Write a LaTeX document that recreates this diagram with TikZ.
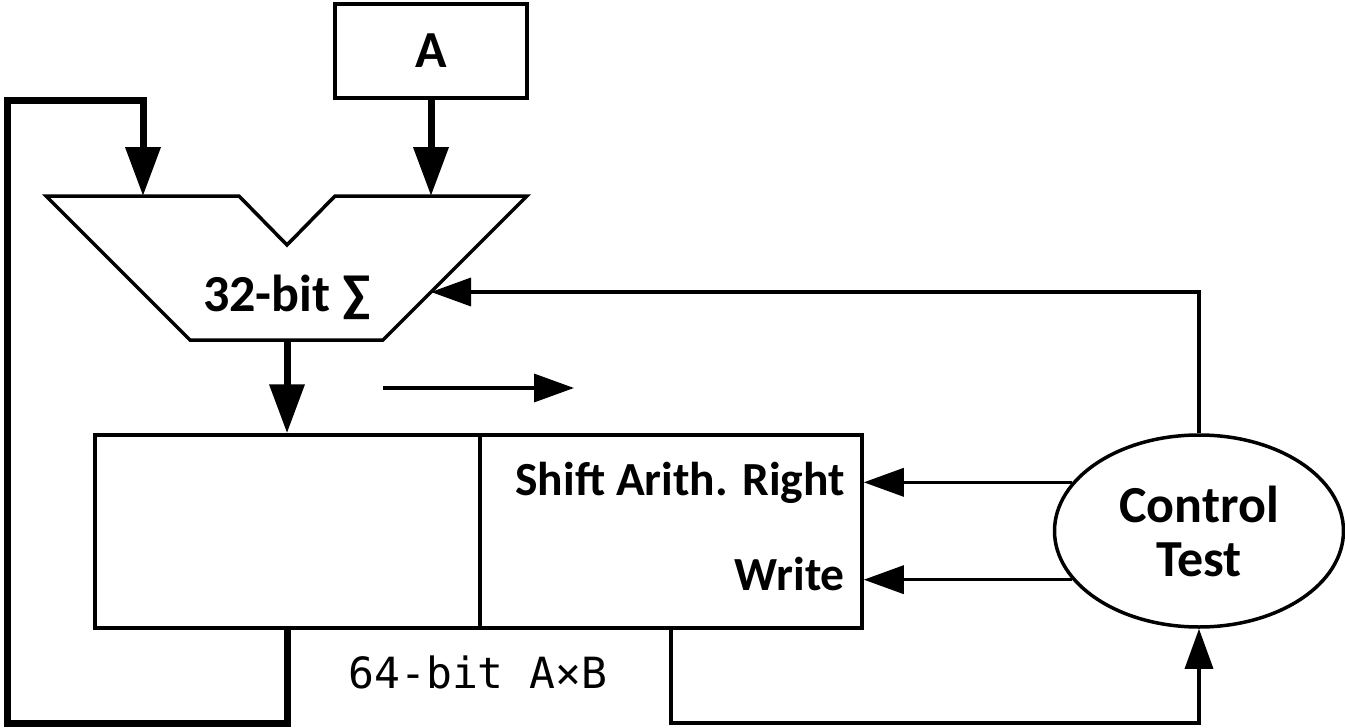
\documentclass[tikz,border=0pt]{standalone}
\usepackage{fontspec}
\setmainfont{Carlito}
\newfontfamily\codefont{DejaVu Sans Mono}
\usetikzlibrary{positioning,shapes.geometric,arrows.meta}

\tikzset{
  wire/.style={line width=3.5pt},
  bus/.style={line width=7pt},
  wirearrow/.style={wire,-{Triangle[length=40pt,width=28pt]}},
  busarrow/.style={bus,-{Triangle[length=49pt,width=34pt]}},
  label/.style={font=\fontsize{52}{54}\selectfont\bfseries,align=center,inner sep=0pt},
  smalllabel/.style={label,font=\fontsize{47.5}{50}\selectfont\bfseries},
}

\begin{document}
\begin{tikzpicture}[x=1pt,y=-1pt]
\useasboundingbox (0,0) rectangle (1345,728);
% boxes
\node[draw,wire,label,minimum width=192pt,minimum height=94pt] (a) at (431,51) {A};
\node[draw,wire,minimum width=385pt,minimum height=193pt,inner sep=0pt] (regL) at (287.5,531.5) {};
\node[draw,wire,minimum width=382pt,minimum height=193pt,inner sep=0pt] (regR) at (671,531.5) {};
\node[draw,wire,ellipse,minimum width=289pt,minimum height=192pt,inner sep=0pt,label] (ctl) at (1199,531) {Control\\Test};
% adder
\coordinate (sumL) at (143,196);
\coordinate (sumR) at (431,196);
\coordinate (sumin) at (431,292);
\coordinate (sumout) at (287,340);
\draw[wire,line join=miter] (46,196) -- (239,196) -- (287,245) -- (335,196) -- (527,196)
  -- (383,340) -- (190,340) -- cycle;
\node[label] (sum) at (287,297) {32-bit ∑};
% labels
\node[smalllabel,anchor=base east] (sar) at (845,495) {Shift Arith. Right};
\node[smalllabel,anchor=base east] (wr) at (845,590) {Write};
\node[font=\fontsize{43}{45}\selectfont\codefont,anchor=base,inner sep=0pt] (ab) at (478,688) {64-bit A×B};
% data paths
\draw[busarrow] (a.south) -- (sumR);
\draw[busarrow] (sumout) -- (sumout |- regL.north);
\coordinate (fb) at (287,628);
\draw[busarrow] (fb) -- (287,723) -- (7,723) -- (7,100) -| (sumL);
% shift direction
\coordinate (shl) at (383,388);
\coordinate (shr) at (574,388);
\draw[wirearrow] (shl) -- (shr);
% control
\draw[wirearrow] (ctl.159) -- (ctl.159 -| regR.east);
\draw[wirearrow] (ctl.201) -- (ctl.201 -| regR.east);
\draw[wirearrow] (ctl.north) |- (sumin);
\coordinate (tap) at (671,628);
\draw[wirearrow] (tap) -- (671,723) -| (ctl.south);
\end{tikzpicture}
\end{document}
